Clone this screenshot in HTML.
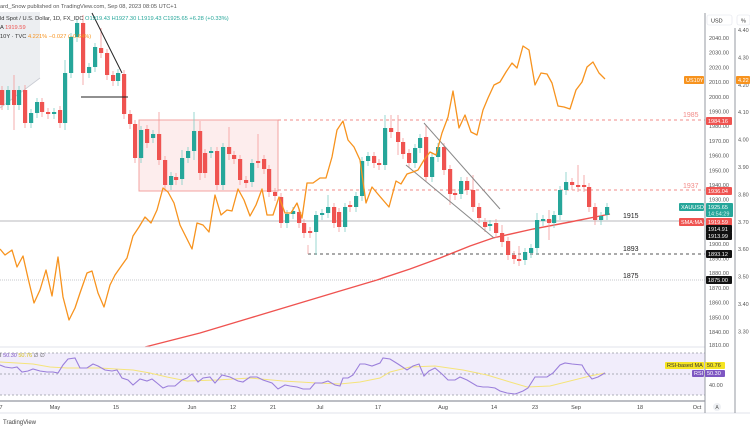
<!DOCTYPE html>
<html><head><meta charset="utf-8">
<style>
html,body{margin:0;padding:0;background:#fff;width:750px;height:430px;overflow:hidden;font-family:"Liberation Sans",sans-serif;}
svg{display:block}
</style></head>
<body>
<div id="c"></div>
<script>
var W=750,H=430;
var s='<svg xmlns="http://www.w3.org/2000/svg" width="750" height="430" font-family="Liberation Sans, sans-serif">';
s+='<rect width="750" height="430" fill="#fff"/>';
s+='<polygon points="0,12 40,12 40,78 0,108" fill="#eceef1"/>';
s+='<line x1="0" y1="108" x2="40" y2="78" stroke="#c9ccd3" stroke-width="0.8"/>';
s+='<rect x="139" y="120" width="139" height="71" fill="rgba(239,83,80,0.10)" stroke="#f3a3a1" stroke-width="1"/>';
s+='<line x1="278" y1="120" x2="705" y2="120" stroke="#f28b88" stroke-dasharray="3,3" stroke-width="1"/>';
s+='<line x1="278" y1="190" x2="705" y2="190" stroke="#f28b88" stroke-dasharray="3,3" stroke-width="1"/>';
s+='<text x="683" y="117" font-size="7" fill="#f28b88">1985</text>';
s+='<text x="683" y="188" font-size="7" fill="#f28b88">1937</text>';
s+='<line x1="0" y1="221" x2="705" y2="221" stroke="#a0a3a8" stroke-width="0.8"/>';
s+='<line x1="0" y1="280" x2="705" y2="280" stroke="#b5b7bc" stroke-dasharray="1,1" stroke-width="0.8"/>';
s+='<line x1="308" y1="254" x2="705" y2="254" stroke="#555" stroke-dasharray="3,3" stroke-width="0.9"/>';
s+='<line x1="308" y1="245" x2="308" y2="254" stroke="#f3a3a1" stroke-width="0.8"/>';
s+='<text x="623" y="218" font-size="7" fill="#222">1915</text>';
s+='<text x="623" y="251" font-size="7" fill="#222">1893</text>';
s+='<text x="623" y="278" font-size="7" fill="#222">1875</text>';
s+='<polyline fill="none" stroke="#ef5350" stroke-width="1.4" points="145,347 200,333 250,318 300,303 340,291 377,280 410,269 440,258 470,246 493,238 533,229 570,222 600,216 610,214"/>';
var C=[[0,90,105,'r'],[6,90,105,'g'],[12,90,105,'r'],[17,90,105,'g'],[23,90,123,'r'],[29,113,123,'g'],[35,102,113,'g'],[40,102,112,'r'],[46,112,114,'r'],[52,112,114,'g'],[58,110,123,'r'],[63,73,123,'g'],[69,37,73,'g'],[75,23,37,'g'],[81,23,73,'r'],[87,67,73,'g'],[93,47,67,'g'],[99,48,53,'r'],[105,53,75,'r'],[111,75,81,'r'],[116,73,81,'g'],[122,74,114,'r'],[128,114,124,'r'],[133,124,158,'r'],[139,130,158,'g'],[145,129,143,'r'],[151,134,138,'g'],[157,134,160,'r'],[163,160,185,'r'],[169,176,185,'g'],[174,177,180,'r'],[180,158,179,'g'],[186,151,158,'g'],[192,131,151,'g'],[198,131,173,'r'],[203,153,173,'r'],[209,151,153,'g'],[215,151,185,'r'],[221,147,185,'g'],[227,147,154,'r'],[232,155,159,'r'],[238,159,180,'r'],[244,180,183,'r'],[250,163,182,'g'],[256,161,163,'r'],[262,159,169,'r'],[267,169,192,'r'],[273,192,196,'r'],[279,197,223,'r'],[285,214,223,'g'],[291,211,214,'g'],[297,212,223,'r'],[302,223,233,'r'],[308,231,233,'r'],[314,215,232,'g'],[320,213,215,'g'],[326,207,213,'g'],
[332,207,223,'r'],[337,212,227,'r'],[343,207,227,'g'],[348,205,207,'r'],[354,196,207,'g'],[360,161,196,'g'],[366,156,161,'g'],[372,156,163,'r'],[377,163,165,'r'],[383,128,165,'g'],[389,128,132,'r'],[396,132,142,'r'],[401,142,154,'r'],[407,153,163,'r'],[413,148,163,'g'],[418,138,148,'g'],[424,137,177,'r'],[430,157,177,'g'],[436,147,157,'g'],[442,147,170,'r'],[448,169,194,'r'],[453,193,195,'r'],[459,181,194,'g'],[465,181,190,'r'],[471,190,207,'r'],[477,207,218,'r'],[483,222,227,'r'],[488,224,226,'g'],[494,223,233,'r'],[500,233,242,'r'],[506,241,255,'r'],[512,255,259,'r'],[517,259,261,'r'],[523,252,260,'g'],[529,248,253,'g'],[535,220,248,'g'],[541,219,221,'g'],[547,219,223,'r'],[552,215,223,'g'],[558,190,215,'g'],[564,182,190,'g'],[570,182,185,'r'],[576,185,187,'r'],[582,185,187,'r'],[587,187,207,'r'],[593,207,220,'r'],[599,216,220,'g'],[605,207,215,'g']];
var wx={63:[60,130],81:[15,85],99:[28,58],157:[112,164],192:[112,160],198:[121,180],227:[127,160],256:[134,168],180:[150,185],314:[215,255],326:[195,215],383:[115,168],389:[115,138],396:[115,155],424:[125,180],448:[170,205],471:[175,212],500:[225,245],535:[213,255],547:[210,240],576:[165,190],582:[175,190],564:[172,192],517:[246,263],12:[75,130],23:[85,128]};
C.forEach(function(c){
 var x=c[0]+2,col=c[3]=='g'?'#26a69a':'#ef5350',wc=c[3]=='g'?'#7fcdc5':'#f49a98';
 var hi=c[1]-4,lo=c[2]+5; if(wx[c[0]]){hi=Math.min(hi,wx[c[0]][0]);lo=Math.max(lo,wx[c[0]][1]);}
 s+='<line x1="'+x+'" y1="'+hi+'" x2="'+x+'" y2="'+lo+'" stroke="'+wc+'" stroke-width="0.8"/>';
 s+='<rect x="'+(c[0])+'" y="'+c[1]+'" width="4.2" height="'+Math.max(1,c[2]-c[1])+'" fill="'+col+'"/>';
});
s+='<line x1="92" y1="13" x2="122" y2="73" stroke="#222" stroke-width="1"/>';
s+='<line x1="81" y1="97" x2="128" y2="97" stroke="#222" stroke-width="1"/>';
s+='<line x1="424" y1="123" x2="500" y2="209" stroke="#888" stroke-width="1"/>';
s+='<line x1="406" y1="165" x2="494" y2="238" stroke="#888" stroke-width="1"/>';
var O=[[0,249],[5,255],[12,250],[17,267],[23,256],[28,278],[34,303],[40,290],[46,270],[52,296],[58,257],[63,297],[69,320],[75,308],[80,293],[87,273],[92,271],[98,293],[104,307],[110,285],[115,275],[122,265],[127,258],[133,236],[139,227],[145,217],[151,223],[157,210],[163,188],[168,192],[174,203],[180,225],[186,237],[192,249],[197,223],[203,225],[209,232],[215,195],[221,215],[227,210],[232,211],[238,189],[244,200],[250,216],[256,205],[262,189],[267,215],[273,215],[279,197],[285,213],[291,213],[297,203],[302,218],[307,183],[313,183],[320,178],[326,178],[332,157],[337,130],[343,121],[348,140],[354,147],[360,160],[366,203],[372,187],[377,193],[383,200],[389,207],[396,181],[401,184],[407,174],[413,172],[418,170],[424,160],[430,152],[436,155],[442,133],[448,117],[453,91],[459,128],[465,115],[471,132],[477,135],[483,110],[488,98],[494,85],[500,82],[506,72],[512,63],[517,68],[523,46],[529,50],[535,85],[541,73],[547,74],[552,83],[558,106],[564,107],[570,109],[576,90],[582,82],[587,67],[593,62],[599,73],[605,79]];
s+='<polyline fill="none" stroke="#f7931e" stroke-width="1.3" stroke-linejoin="round" points="'+O.map(function(p){return p.join(',')}).join(' ')+'"/>';
s+='<text x="0" y="8" font-size="5.7" fill="#555">ard_Snow published on TradingView.com, Sep 08, 2023 08:05 UTC+1</text>';
s+='<text x="0" y="20" font-size="5.7" fill="#333">ld Spot / U.S. Dollar, 1D, FX_IDC <tspan fill="#26a69a">O1919.43 H1927.30 L1919.43 C1925.65 +6.28 (+0.33%)</tspan></text>';
s+='<text x="0" y="29" font-size="5.7" fill="#333">A <tspan fill="#ef5350">1919.59</tspan></text>';
s+='<text x="0" y="38" font-size="5.7" fill="#333">10Y · TVC <tspan fill="#f7931e">4.221% −0.027 (−0.64%)</tspan></text>';
s+='<line x1="0" y1="347" x2="705" y2="347" stroke="#e0e3eb" stroke-width="1"/>';
s+='<rect x="0" y="353" width="705" height="42" fill="#f1edfb"/>';
s+='<line x1="0" y1="353" x2="705" y2="353" stroke="#9598a1" stroke-dasharray="2,2" stroke-width="0.7"/>';
s+='<line x1="0" y1="374" x2="705" y2="374" stroke="#9598a1" stroke-dasharray="2,2" stroke-width="0.7"/>';
s+='<line x1="0" y1="395" x2="705" y2="395" stroke="#9598a1" stroke-dasharray="2,2" stroke-width="0.7"/>';
var Y=[[0,362],[17,363],[33,364],[50,367],[67,368],[100,368],[133,370],[150,373],[167,377],[187,381],[217,380],[250,378],[283,381],[317,383],[340,384],[360,382],[380,378],[390,372],[410,367],[435,366],[463,370],[487,375],[510,382],[527,387],[550,386],[570,381],[590,376],[605,373]];
s+='<polyline fill="none" stroke="#f5e47a" stroke-width="1" points="'+Y.map(function(p){return p.join(',')}).join(' ')+'"/>';
var R=[[0,365],[5,367],[12,368],[17,367],[22,372],[28,371],[33,369],[40,371],[47,372],[53,372],[58,373],[63,365],[68,359],[75,358],[80,368],[87,368],[93,364],[98,366],[105,370],[112,371],[117,370],[122,378],[128,380],[133,385],[140,379],[147,381],[152,379],[157,383],[163,388],[168,386],[175,386],[182,380],[187,378],[192,374],[198,382],[203,378],[210,377],[215,383],[222,375],[230,377],[238,381],[243,382],[250,377],[257,377],[263,380],[272,383],[278,389],[285,385],[290,386],[297,387],[303,389],[310,389],[315,383],[322,383],[328,381],[335,385],[340,386],[343,378],[348,378],[353,375],[360,364],[365,364],[372,366],[380,363],[383,358],[390,359],[398,364],[407,370],[413,366],[419,364],[424,376],[429,371],[435,368],[442,374],[448,380],[455,380],[460,377],[467,380],[477,386],[483,387],[488,387],[495,388],[500,391],[507,393],[515,394],[518,393],[523,391],[528,388],[535,377],[540,377],[547,377],[553,373],[560,365],[565,363],[572,364],[582,365],[586,372],[592,379],[598,377],[605,373]];
s+='<polyline fill="none" stroke="#9b7fdb" stroke-width="1.1" points="'+R.map(function(p){return p.join(',')}).join(' ')+'"/>';
s+='<text x="0" y="357" font-size="5.5" fill="#555">I <tspan fill="#7e57c2">50.30</tspan> <tspan fill="#d4c11a">50.76</tspan>  ∅  ∅</text>';
s+='<line x1="0" y1="401" x2="705" y2="401" stroke="#9598a1" stroke-width="1.2"/>';
s+='<line x1="0" y1="413" x2="750" y2="413" stroke="#e0e3eb" stroke-width="1"/>';
var T=[[1,'7'],[55,'May'],[116,'15'],[192,'Jun'],[233,'12'],[273,'21'],[320,'Jul'],[378,'17'],[443,'Aug'],[494,'14'],[535,'23'],[576,'Sep'],[640,'18'],[697,'Oct']];
T.forEach(function(t){s+='<text x="'+t[0]+'" y="409" font-size="5.5" fill="#444" text-anchor="middle">'+t[1]+'</text>';});
s+='<text x="3" y="424" font-size="6" fill="#444">TradingView</text>';
s+='<line x1="705" y1="13" x2="705" y2="413" stroke="#9598a1" stroke-width="1"/>';
s+='<line x1="735" y1="28" x2="735" y2="413" stroke="#9598a1" stroke-width="1"/>';
s+='<rect x="707" y="15" width="25" height="10" rx="2" fill="#fff" stroke="#e0e3eb" stroke-width="0.6"/>';
s+='<text x="711" y="22.5" font-size="5.5" fill="#333">USD</text>';
s+='<rect x="737" y="15" width="13" height="10" rx="2" fill="#fff" stroke="#e0e3eb" stroke-width="0.6"/>';
s+='<text x="741" y="22.5" font-size="5.5" fill="#333">%</text>';
for(var p=2040;p>=1840;p-=10){var y=38+(2040-p)*1.47;s+='<text x="709" y="'+(y+2)+'" font-size="5.5" fill="#555">'+p+'.00</text>';}
s+='<text x="709" y="347" font-size="5.5" fill="#555">1810.00</text>';
s+='<text x="709" y="387" font-size="5.5" fill="#555">40.00</text>';
var pc=['4.40','4.30','4.20','4.10','4.00','3.90','3.80','3.70','3.60','3.50','3.40','3.30'];
pc.forEach(function(v,i){var y=30+i*27.4;s+='<text x="738" y="'+(y+2)+'" font-size="5.5" fill="#555">'+v+'</text>';});
function badge(x,y,w,h,fill,txt,tc){s+='<rect x="'+x+'" y="'+y+'" width="'+w+'" height="'+h+'" rx="1" fill="'+fill+'"/><text x="'+(x+2)+'" y="'+(y+h-2)+'" font-size="5.5" fill="'+(tc||'#fff')+'">'+txt+'</text>';}
badge(684,76,20,8,'#f7931e','US10Y');
badge(736,76,14,8,'#f7931e','4.22');
badge(706,117,26,8,'#ef5350','1984.16');
badge(706,187,26,8,'#ef5350','1936.04');
badge(679,203,25,8,'#26a69a','XAUUSD');
s+='<rect x="706" y="203" width="27" height="14" rx="1" fill="#26a69a"/><text x="708" y="209" font-size="5.5" fill="#fff">1925.65</text><text x="708" y="215.5" font-size="5.5" fill="#d7f2ef">14:54:29</text>';
badge(679,218,25,8,'#ef5350','SMA:MA');
badge(706,218,26,8,'#ef5350','1919.59');
badge(706,225,26,8,'#111','1914.91');
badge(706,232,26,8,'#111','1913.99');
badge(706,250,26,8,'#111','1893.12');
badge(706,276,26,8,'#111','1875.00');
badge(665,362,39,7,'#f5e422','RSI-based MA','#333');
badge(705,362,20,7,'#f5e422','50.76','#333');
badge(692,370,12,7,'#7e57c2','RSI');
badge(705,370,20,7,'#7e57c2','50.30');
s+='<circle cx="717" cy="407" r="4" fill="#eef0f3"/><text x="717" y="409" font-size="5" fill="#555" text-anchor="middle">A</text>';
s+='</svg>';
document.getElementById('c').innerHTML=s;
</script>
</body></html>
